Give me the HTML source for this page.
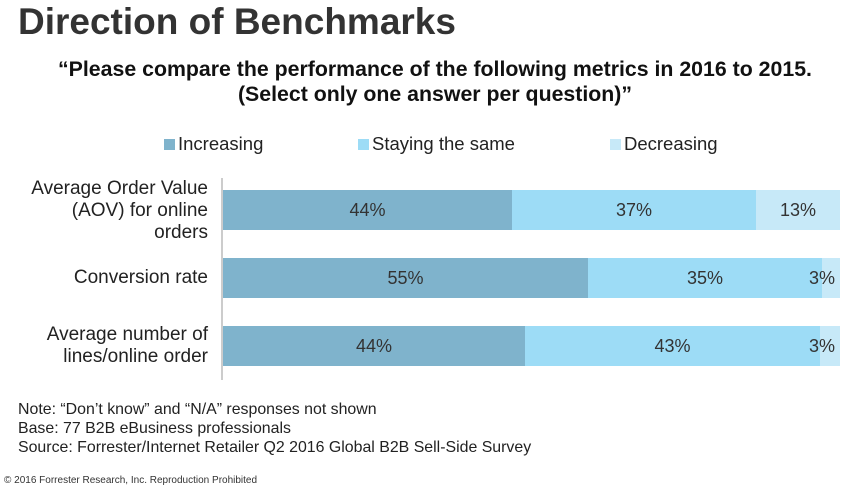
<!DOCTYPE html>
<html><head><style>
body{margin:0;width:848px;height:490px;background:#fff;font-family:"Liberation Sans",Arial,sans-serif;position:relative;overflow:hidden;color:#222}
.a{position:absolute;white-space:nowrap}
.bar{position:absolute;height:40px;line-height:40px;text-align:center;font-size:18px;color:#333}
.c1{background:#7fb3cc}.c2{background:#9ddcf6}.c3{background:#c7e9f8}
.lab{position:absolute;right:640px;text-align:right;font-size:19px;line-height:22px;color:#222}
.sw{display:inline-block;width:11px;height:11px;margin-right:3px;vertical-align:0}
</style></head><body>
<div class="a" style="left:18px;top:1px;font-size:37px;font-weight:bold;color:#333">Direction of Benchmarks</div>
<div class="a" style="left:0;width:870px;text-align:center;top:57px;font-size:21.3px;font-weight:bold;line-height:25px;color:#111">“Please compare the performance of the following metrics in 2016 to 2015.<br>(Select only one answer per question)”</div>
<div class="a" style="left:164px;top:133px;font-size:18.5px"><span class="sw c1"></span>Increasing</div>
<div class="a" style="left:358px;top:133px;font-size:18.5px"><span class="sw c2"></span>Staying the same</div>
<div class="a" style="left:610px;top:133px;font-size:18.5px"><span class="sw c3"></span>Decreasing</div>
<div class="a" style="left:221px;top:178px;width:2px;height:202px;background:#ccc"></div>
<div class="lab" style="top:178px">Average Order Value<br>(AOV) for online<br>orders</div>
<div class="lab" style="top:267px">Conversion rate</div>
<div class="lab" style="top:324px">Average number of<br>lines/online order</div>
<div class="bar c1" style="left:223px;width:289px;top:190px">44%</div>
<div class="bar c2" style="left:512px;width:244px;top:190px">37%</div>
<div class="bar c3" style="left:756px;width:84px;top:190px">13%</div>
<div class="bar c1" style="left:223px;width:365px;top:258px">55%</div>
<div class="bar c2" style="left:588px;width:234px;top:258px">35%</div>
<div class="bar c3" style="left:822px;width:18px;top:258px;text-indent:-18px">3%</div>
<div class="bar c1" style="left:223px;width:302px;top:326px">44%</div>
<div class="bar c2" style="left:525px;width:295px;top:326px">43%</div>
<div class="bar c3" style="left:820px;width:20px;top:326px;text-indent:-16px">3%</div>
<div class="a" style="left:18px;top:400px;font-size:15.9px;line-height:19px;color:#222">Note: “Don’t know” and “N/A” responses not shown<br>Base: 77 B2B eBusiness professionals<br>Source: Forrester/Internet Retailer Q2 2016 Global B2B Sell-Side Survey</div>
<div class="a" style="left:4px;top:475px;font-size:10px;color:#333">© 2016 Forrester Research, Inc. Reproduction Prohibited</div>
</body></html>
